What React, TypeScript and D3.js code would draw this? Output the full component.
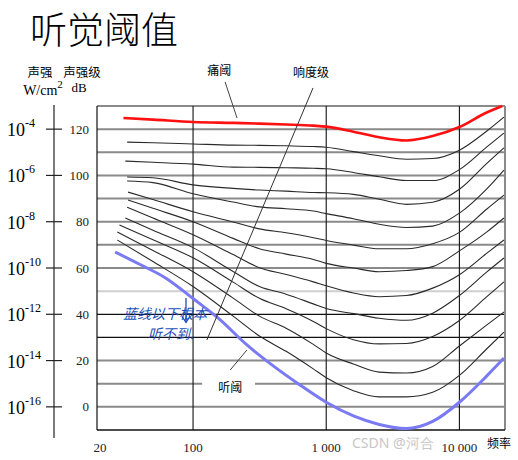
import React from "react";
import * as d3 from "d3";

const WIDTH = 518;
const HEIGHT = 460;

// ---- axes / ticks ----
const xTickHz = [20, 100, 1000, 10000];
const xTickLabels = ["20", "100", "1 000", "10 000"];
const verticalGridHz = [100, 1000, 10000];
const dbGrid = [120, 110, 100, 90, 80, 70, 60, 50, 40, 30, 20, 10, 0];
const dbTickValues = [120, 100, 80, 60, 40, 20, 0];
const intensityExponents = ["-4", "-6", "-8", "-10", "-12", "-14", "-16"];

// ---- equal-loudness contours (Hz, dB) ----
const midHz = [50, 100, 200, 315, 500, 800, 1000, 1600, 2500, 4000, 6300, 10000, 16000];

const painHz = [30, ...midHz, 21000];
const pain120 = [124.8, 124.1, 123.1, 122.7, 122.4, 122.0, 121.5, 121.1, 118.9, 116.5, 115.1, 117.0, 120.9, 127.2, 130.0];

const contourStartHz = [32, 31, 32, 32, 32.5, 32.5, 32, 31, 28, 27, 27];
const contourEndHz = 21600;
const phon110 = [114.4, 114.1, 113.6, 113.1, 113.0, 112.8, 112.5, 112.2, 110.3, 108.5, 107.0, 107.3, 110.9, 119.1, 125.2];
const phon100 = [106.2, 105.7, 104.9, 103.6, 103.5, 103.3, 103.1, 102.9, 101.3, 99.4, 97.8, 97.8, 102.5, 112.2, 118.3];
const phon90 = [99.3, 99.0, 95.9, 94.4, 93.7, 93.2, 92.6, 92.5, 91.8, 89.7, 87.5, 88.4, 94.0, 105.1, 111.9];
const phon80 = [97.6, 96.9, 92.1, 88.5, 86.4, 85.6, 84.6, 83.5, 81.3, 78.9, 77.5, 78.1, 83.7, 94.1, 102.3];
const phon70 = [92.8, 89.6, 84.3, 79.9, 76.9, 75.2, 73.1, 71.9, 69.9, 68.3, 68.3, 70.5, 75.4, 85.4, 91.5];
const phon60 = [89.4, 85.8, 80.0, 72.8, 68.3, 66.0, 63.7, 62.0, 60.0, 58.4, 58.9, 60.6, 67.4, 75.5, 81.6];
const phon50 = [86.3, 81.6, 74.4, 65.8, 60.1, 57.2, 54.0, 52.3, 49.2, 47.6, 48.1, 51.3, 57.1, 66.3, 72.1];
const phon40 = [81.6, 76.3, 68.8, 58.5, 52.0, 48.7, 44.5, 42.5, 40.3, 38.3, 37.4, 40.5, 48.1, 58.2, 64.3];
const phon30 = [78.6, 72.2, 64.4, 53.9, 46.9, 42.4, 36.9, 33.8, 29.0, 27.2, 27.4, 30.4, 37.3, 47.5, 54.0];
const phon20 = [75.6, 67.6, 58.4, 47.0, 39.2, 34.0, 27.0, 23.3, 18.5, 15.0, 14.6, 17.4, 26.3, 35.3, 41.0];
const phon10 = [72.1, 62.8, 52.0, 39.2, 30.6, 24.0, 16.4, 12.6, 7.0, 4.3, 4.3, 6.3, 13.6, 25.0, 32.3];
const contours = [phon110, phon100, phon90, phon80, phon70, phon60, phon50, phon40, phon30, phon20, phon10];

const thresholdHz = [26, 40, 63, 100, 160, 250, 400, 630, 1000, 1600, 2500, 4000, 6300, 10000, 16000, 21600];
const threshold0 = [66.9, 61.5, 55.5, 46.8, 37.6, 27.1, 17.7, 9.6, 2.0, -3.9, -7.6, -9.4, -6.3, 2.0, 13.3, 21.1];

// ---- annotation anchors (Hz, dB) ----
const painLabel = [157, 145.6];
const painLeader = [[174, 140.4], [214, 124.8]];
const loudLabel = [769, 144.7];
const loudLeader = [[796, 137.8], [127, 28.9]];
const hearLabel = [190, 9.0];
const hearLeader = [[190, 15.9], [254, 24.6]];
const gridGapHz = [117, 292];
const noteArrow = [[88.5, 47.0], [88.5, 36.5]];
const noteLine1 = [29.8, 38.0];
const noteLine2 = [45.9, 29.4];

const x = d3.scaleLog().domain([19, 22000]).range([97, 505]);
const y = d3.scaleLinear().domain([-10, 130]).range([430, 106]);

const line = d3
  .line<[number, number]>()
  .x((d) => x(d[0]))
  .y((d) => y(d[1]))
  .curve(d3.curveMonotoneX);

const zip = (hz: number[], db: number[]) => hz.map((h, i) => [h, db[i]] as [number, number]);

const serif = "'Liberation Serif', 'DejaVu Serif', serif";
const cjk = "'Noto Sans CJK SC', sans-serif";

function gridStyle(v: number) {
  if (v === 50) return { stroke: "#cfcfcf", w: 2 };
  if (v === 40 || v === 30) return { stroke: "#111", w: 1.2 };
  return { stroke: "#8a8a8a", w: 2 };
}

export default function App() {
  const x0 = x.range()[0];
  const x1 = x.range()[1];
  const yTop = y.range()[1];
  const yBot = y.range()[0];
  const axisX = 54;

  return (
    <svg
      width={WIDTH}
      height={HEIGHT}
      style={{ position: "absolute", left: 0, top: 0, background: "#fff" }}
    >
      <rect width={WIDTH} height={HEIGHT} fill="#fff" />
      {/* title */}
      <text x={30} y={44} fontFamily={cjk} fontSize={37} fontWeight={300} fill="#000">
        听觉阈值
      </text>

      {/* axis captions */}
      <text x={40} y={77} textAnchor="middle" fontFamily={cjk} fontSize={12.5}>
        声强
      </text>
      <text x={43} y={95} textAnchor="middle" fontFamily={serif} fontSize={14}>
        W/cm
        <tspan dy={-7} fontSize={11}>
          2
        </tspan>
      </text>
      <text x={82} y={77} textAnchor="middle" fontFamily={cjk} fontSize={12.5}>
        声强级
      </text>
      <text x={79} y={92} textAnchor="middle" fontFamily={serif} fontSize={13}>
        dB
      </text>

      {/* intensity axis */}
      <line x1={axisX} x2={axisX} y1={105} y2={438} stroke="#222" strokeWidth={1.2} />
      {dbTickValues.map((v, i) => (
        <g key={"it" + v}>
          <line x1={axisX - 8} x2={axisX + 8} y1={y(v)} y2={y(v)} stroke="#222" strokeWidth={1.2} />
          <text x={7} y={y(v) + 7} fontFamily={serif} fontSize={18} fill="#000">
            10
            <tspan dy={-9} fontSize={12}>
              {intensityExponents[i]}
            </tspan>
          </text>
          <text x={89} y={y(v) + 4.5} textAnchor="end" fontFamily={serif} fontSize={13} fill="#222">
            {v}
          </text>
        </g>
      ))}

      {/* horizontal grid */}
      {dbGrid.map((v) => {
        const s = gridStyle(v);
        if (v === 10) {
          return (
            <g key={"g" + v}>
              <line x1={x0} x2={x(gridGapHz[0])} y1={y(v)} y2={y(v)} stroke={s.stroke} strokeWidth={s.w} />
              <line x1={x(gridGapHz[1])} x2={x1} y1={y(v)} y2={y(v)} stroke={s.stroke} strokeWidth={s.w} />
            </g>
          );
        }
        return <line key={"g" + v} x1={x0} x2={x1} y1={y(v)} y2={y(v)} stroke={s.stroke} strokeWidth={s.w} />;
      })}
      {/* frame */}
      <line x1={x0} x2={x1} y1={yTop} y2={yTop} stroke="#8a8a8a" strokeWidth={2} />
      <line x1={x1} x2={x1} y1={yTop} y2={yBot} stroke="#8a8a8a" strokeWidth={2} />
      <line x1={x0} x2={x0} y1={yTop} y2={yBot} stroke="#111" strokeWidth={1.2} />
      <line x1={x0} x2={x1} y1={yBot} y2={yBot} stroke="#111" strokeWidth={1.5} />

      {/* vertical grid */}
      {verticalGridHz.map((f) => (
        <line key={"v" + f} x1={x(f)} x2={x(f)} y1={yTop} y2={yBot} stroke="#111" strokeWidth={1.1} />
      ))}

      {/* x tick labels */}
      {xTickHz.map((f, i) => (
        <text key={"xt" + f} x={x(f)} y={452} textAnchor="middle" fontFamily={serif} fontSize={13} fill="#222">
          {xTickLabels[i]}
        </text>
      ))}
      <text x={499} y={448} textAnchor="middle" fontFamily={cjk} fontSize={12}>
        频率
      </text>

      {/* contours */}
      {contours.map((c, i) => (
        <path
          key={"c" + i}
          d={line(zip([contourStartHz[i], ...midHz, contourEndHz], c)) || ""}
          fill="none"
          stroke="#2a2a2a"
          strokeWidth={1.1}
        />
      ))}
      <path d={line(zip(painHz, pain120)) || ""} fill="none" stroke="#ff1010" strokeWidth={2.6} />
      <path d={line(zip(thresholdHz, threshold0)) || ""} fill="none" stroke="#7a7af2" strokeWidth={3} />

      {/* annotations */}
      <text x={x(painLabel[0])} y={y(painLabel[1])} textAnchor="middle" dominantBaseline="central" fontFamily={cjk} fontSize={12}>
        痛阈
      </text>
      <line
        x1={x(painLeader[0][0])}
        y1={y(painLeader[0][1])}
        x2={x(painLeader[1][0])}
        y2={y(painLeader[1][1])}
        stroke="#444"
        strokeWidth={1}
      />
      <text x={x(loudLabel[0])} y={y(loudLabel[1])} textAnchor="middle" dominantBaseline="central" fontFamily={cjk} fontSize={12}>
        响度级
      </text>
      <line
        x1={x(loudLeader[0][0])}
        y1={y(loudLeader[0][1])}
        x2={x(loudLeader[1][0])}
        y2={y(loudLeader[1][1])}
        stroke="#333"
        strokeWidth={1}
      />
      <text x={x(hearLabel[0])} y={y(hearLabel[1])} textAnchor="middle" dominantBaseline="central" fontFamily={cjk} fontSize={12}>
        听阈
      </text>
      <line
        x1={x(hearLeader[0][0])}
        y1={y(hearLeader[0][1])}
        x2={x(hearLeader[1][0])}
        y2={y(hearLeader[1][1])}
        stroke="#444"
        strokeWidth={1}
      />

      {/* handwritten note */}
      <g stroke="#1d4fb8" strokeWidth={1.3} fill="none">
        <line x1={x(noteArrow[0][0])} y1={y(noteArrow[0][1])} x2={x(noteArrow[1][0])} y2={y(noteArrow[1][1])} />
        <path
          d={`M${x(noteArrow[1][0]) - 4},${y(noteArrow[1][1]) - 6} L${x(noteArrow[1][0])},${y(noteArrow[1][1])} L${x(noteArrow[1][0]) + 4},${y(noteArrow[1][1]) - 6}`}
        />
      </g>
      <text x={x(noteLine1[0])} y={y(noteLine1[1])} fontFamily={cjk} fontSize={14} fill="#1d4fb8" fontStyle="italic">
        蓝线以下根本
      </text>
      <text x={x(noteLine2[0])} y={y(noteLine2[1])} fontFamily={cjk} fontSize={14} fill="#1d4fb8" fontStyle="italic">
        听不到.
      </text>

      {/* watermark */}
      <text x={352} y={448} fontFamily="'Noto Sans', sans-serif" fontSize={14} fill="#bdbdbd" opacity={0.85}>
        CSDN @河合
      </text>
    </svg>
  );
}
